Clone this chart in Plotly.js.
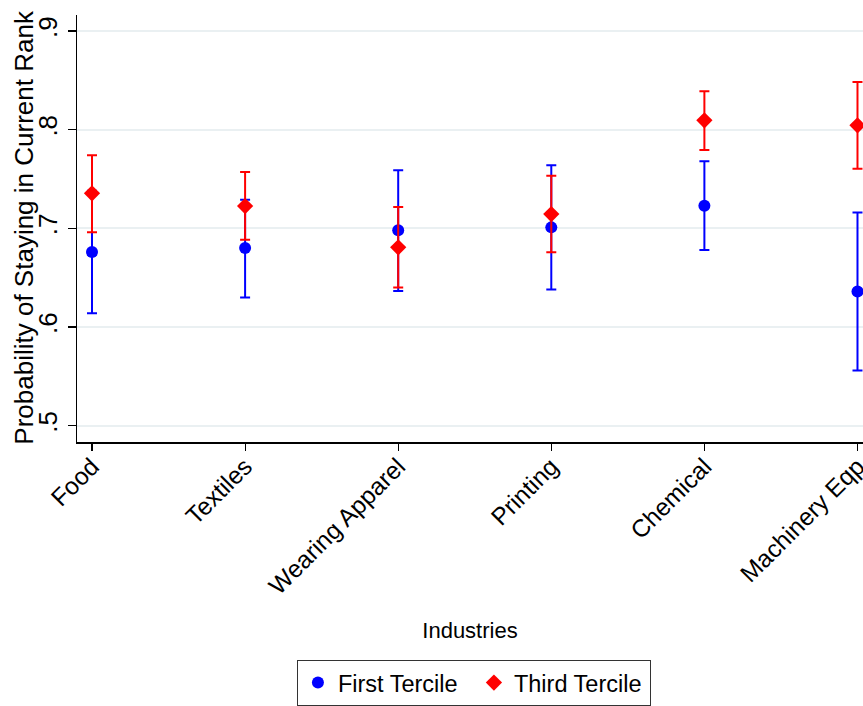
<!DOCTYPE html>
<html>
<head>
<meta charset="utf-8">
<script src="https://cdn.plot.ly/plotly-3.0.1.min.js"></script>
<style>
html,body{margin:0;padding:0;background:#fff;}
#chart{width:863px;height:706px;}
</style>
</head>
<body>
<div id="chart"></div>
<script>
// Data
var categories = ['Food', 'Textiles', 'Wearing Apparel', 'Printing', 'Chemical', 'Machinery Eqp'];

var firstTercile   = [0.676, 0.680, 0.698, 0.701, 0.723, 0.636];
var firstTercileLo = [0.614, 0.630, 0.6365, 0.638, 0.678, 0.556];
var firstTercileHi = [0.738, 0.729, 0.759, 0.764, 0.768, 0.716];

var thirdTercile   = [0.7355, 0.7226, 0.6808, 0.7145, 0.8095, 0.8044];
var thirdTercileLo = [0.696, 0.6885, 0.640, 0.6757, 0.7794, 0.7604];
var thirdTercileHi = [0.774, 0.757, 0.7216, 0.7534, 0.839, 0.8483];

var yTickVals = [0.5, 0.6, 0.7, 0.8, 0.9];
var yTickText = ['.5', '.6', '.7', '.8', '.9'];

var yTitle = 'Probability of Staying in Current Rank';
var xTitle = 'Industries';

function diffUp(v, hi) { return v.map(function (d, i) { return hi[i] - d; }); }
function diffDown(v, lo) { return v.map(function (d, i) { return d - lo[i]; }); }

var FONT = 'Liberation Sans, Arial, Helvetica, sans-serif';

var traces = [
  {
    type: 'scatter', mode: 'markers', name: 'First Tercile',
    x: categories, y: firstTercile,
    marker: {symbol: 'circle', size: 12, color: '#0000ff'},
    error_y: {type: 'data', symmetric: false,
      array: diffUp(firstTercile, firstTercileHi),
      arrayminus: diffDown(firstTercile, firstTercileLo),
      color: '#0000ff', thickness: 2, width: 5},
    cliponaxis: false
  },
  {
    type: 'scatter', mode: 'markers', name: 'Third Tercile',
    x: categories, y: thirdTercile,
    marker: {symbol: 'diamond', size: 12.5, color: '#ff0000'},
    error_y: {type: 'data', symmetric: false,
      array: diffUp(thirdTercile, thirdTercileHi),
      arrayminus: diffDown(thirdTercile, thirdTercileLo),
      color: '#ff0000', thickness: 2, width: 5},
    cliponaxis: false
  }
];

var layout = {
  width: 863, height: 706,
  margin: {l: 77, r: 0, t: 15, b: 264, pad: 0},
  paper_bgcolor: '#ffffff', plot_bgcolor: '#ffffff',
  font: {family: FONT, color: '#000000'},
  showlegend: true,
  legend: {
    orientation: 'h', x: 0.505, xanchor: 'center', y: -0.51, yanchor: 'top',
    bordercolor: '#333333', borderwidth: 1, bgcolor: '#ffffff',
    font: {family: FONT, size: 23.5, color: '#000000'},
    itemwidth: 30, tracegroupgap: 0, entrywidth: 131
  },
  xaxis: {
    type: 'category',
    range: [-0.098, 5.036],
    showgrid: false, zeroline: false,
    showline: true, linecolor: '#000000', linewidth: 1.5,
    ticks: 'outside', ticklen: 7, tickwidth: 1.2, tickcolor: '#000000',
    tickangle: -45,
    ticklabelstandoff: -8,
    tickfont: {family: FONT, size: 24.5, color: '#000000'},
    title: {text: xTitle, font: {family: FONT, size: 22, color: '#000000'}, standoff: 24},
    automargin: false
  },
  yaxis: {
    range: [0.4835, 0.9162],
    tickvals: yTickVals, ticktext: yTickText,
    tickangle: -90,
    showgrid: true, gridcolor: '#eaf0f2', gridwidth: 2,
    zeroline: false,
    showline: true, linecolor: '#000000', linewidth: 1.5,
    ticks: 'outside', ticklen: 8, tickwidth: 1.2, tickcolor: '#000000',
    tickfont: {family: FONT, size: 26, color: '#000000'},
    automargin: false
  },
  annotations: [{
    text: yTitle, xref: 'paper', yref: 'paper',
    x: -0.0674, y: 0.502, xanchor: 'center', yanchor: 'middle',
    textangle: -90, showarrow: false,
    font: {family: FONT, size: 26, color: '#000000'}
  }]
};

Plotly.newPlot('chart', traces, layout, {displayModeBar: false, staticPlot: true});
</script>
</body>
</html>
